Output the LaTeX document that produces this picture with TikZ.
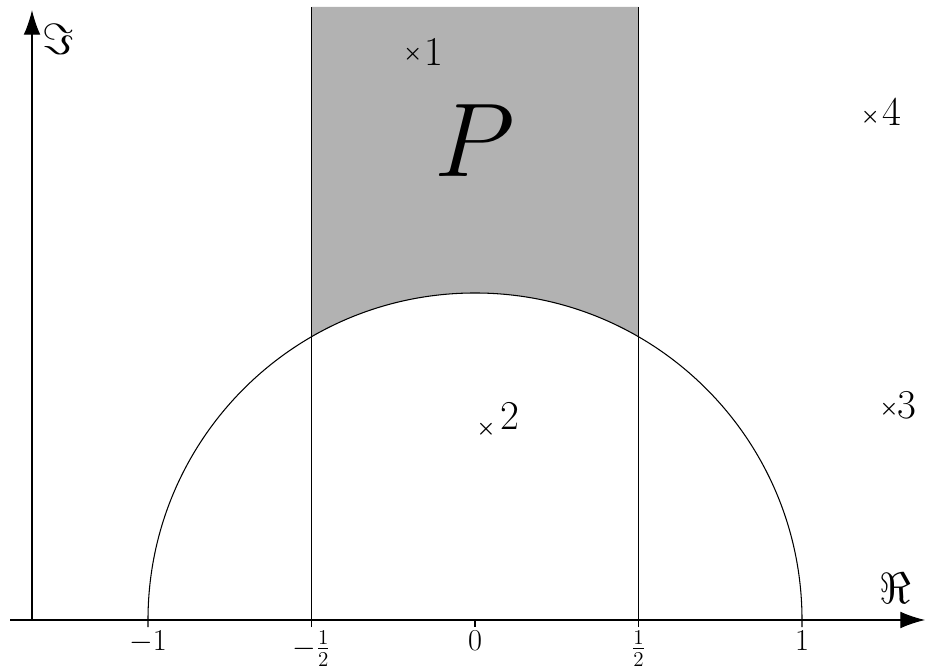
\documentclass[tikz,border=0pt]{standalone}
\usepackage{amsmath}
\usepackage{amssymb}
\usepackage{xcolor}
\usepackage{tikz}
\usetikzlibrary{arrows.meta}

\begin{document}
\begin{tikzpicture}[x=6.54cm,y=6.54cm,line width=0.6pt,
    axis/.style={-{Latex[length=14pt,width=9.5pt]}},
    ptcross/.style={inner sep=0pt,font=\large\boldmath},
    ptlabel/.style={inner sep=0pt,scale=1.35,font=\LARGE},
    ticklabel/.style={below,inner sep=1pt,font=\LARGE}]
    \useasboundingbox (-1.4526,-0.156) rectangle (1.3761,1.896);
    % shaded domain
    \fill[black!30] (-0.5,1.875) -- (-0.5,0.866) arc (120:60:1) -- (0.5,1.875) -- cycle;
    \draw (-0.5,-0.022) -- (-0.5,1.875);
    \draw (0.5,-0.022) -- (0.5,1.875);
    \draw (-1,-0.022) -- (-1,0) arc (180:0:1) -- (1,-0.022);
    \draw (0,0) -- (0,-0.022);
    % axes
    \draw[axis] (-1.422,0) -- (1.376,0);
    \draw[axis] (-1.3547,0) -- (-1.3547,1.865);
    \node[font=\Huge] (re) at (1.284,0.098) {$\Re$};
    \node[font=\Huge] (im) at (-1.275,1.777) {$\Im$};
    \node[ticklabel] (tm1) at (-1,-0.025) {$-1$};
    \node[ticklabel] (tmh) at (-0.5,-0.025) {$-\frac{1}{2}$};
    \node[ticklabel] (t0) at (0,-0.025) {$0$};
    \node[ticklabel] (th) at (0.5,-0.025) {$\frac{1}{2}$};
    \node[ticklabel] (t1) at (1,-0.025) {$1$};
    \node[scale=2.4,font=\Huge] (dom) at (0,1.465) {$P$};
    % points
    \node[ptcross] (z1) at (-0.190,1.731) {$\times$};
    \node[ptlabel] (l1) at (-0.126,1.737) {1};
    \node[ptcross] (z2) at (0.034,0.583) {$\times$};
    \node[ptlabel] (l2) at (0.106,0.625) {2};
    \node[ptcross] (z3) at (1.266,0.645) {$\times$};
    \node[ptlabel] (l3) at (1.320,0.657) {3};
    \node[ptcross] (z4) at (1.209,1.537) {$\times$};
    \node[ptlabel] (l4) at (1.274,1.554) {4};
\end{tikzpicture}
\end{document}
